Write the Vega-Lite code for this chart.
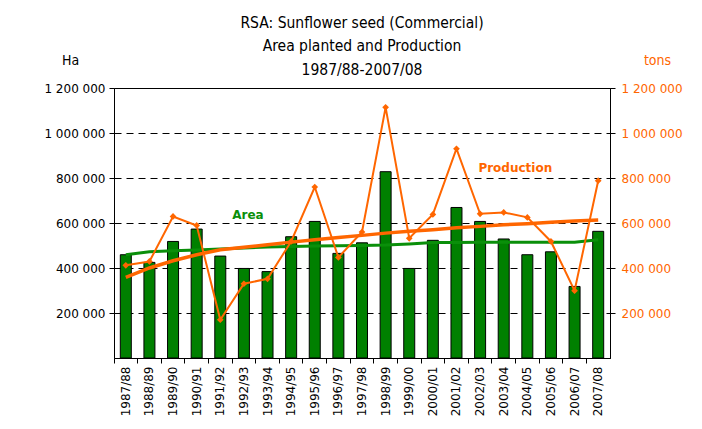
{
  "$schema": "https://vega.github.io/schema/vega-lite/v6.json",
  "width": 496,
  "height": 270,
  "autosize": {"type": "none"},
  "padding": {"left": 114, "top": 88, "right": 92, "bottom": 71},
  "background": "white",
  "title": {
    "text": ["RSA: Sunflower seed (Commercial)", "Area planted and Production", "1987/88-2007/08"],
    "anchor": "middle",
    "font": "DejaVu Sans Condensed, DejaVu Sans, sans-serif",
    "fontSize": 15.5,
    "fontWeight": "normal",
    "color": "#000",
    "lineHeight": 23.5,
    "offset": -25
  },
  "datasets": {
    "main": [
      {"period": "1987/88", "area": 459000, "production": 412000, "area_trend": 459000, "prod_trend": 358000},
      {"period": "1988/89", "area": 425000, "production": 429000, "area_trend": 472000, "prod_trend": 400000},
      {"period": "1989/90", "area": 518000, "production": 629000, "area_trend": 477000, "prod_trend": 432000},
      {"period": "1990/91", "area": 573000, "production": 589000, "area_trend": 480000, "prod_trend": 459000},
      {"period": "1991/92", "area": 453000, "production": 170000, "area_trend": 484000, "prod_trend": 481000},
      {"period": "1992/93", "area": 398000, "production": 330000, "area_trend": 489000, "prod_trend": 492000},
      {"period": "1993/94", "area": 384000, "production": 352000, "area_trend": 493000, "prod_trend": 503000},
      {"period": "1994/95", "area": 539000, "production": 518000, "area_trend": 496000, "prod_trend": 515000},
      {"period": "1995/96", "area": 607000, "production": 760000, "area_trend": 498000, "prod_trend": 526000},
      {"period": "1996/97", "area": 465000, "production": 447000, "area_trend": 499000, "prod_trend": 536000},
      {"period": "1997/98", "area": 512000, "production": 560000, "area_trend": 500000, "prod_trend": 545000},
      {"period": "1998/99", "area": 828000, "production": 1114000, "area_trend": 502000, "prod_trend": 555000},
      {"period": "1999/00", "area": 398000, "production": 532000, "area_trend": 507000, "prod_trend": 563000},
      {"period": "2000/01", "area": 523000, "production": 638000, "area_trend": 513000, "prod_trend": 570000},
      {"period": "2001/02", "area": 669000, "production": 930000, "area_trend": 513000, "prod_trend": 579000},
      {"period": "2002/03", "area": 607000, "production": 641000, "area_trend": 514000, "prod_trend": 585000},
      {"period": "2003/04", "area": 529000, "production": 647000, "area_trend": 514000, "prod_trend": 592000},
      {"period": "2004/05", "area": 459000, "production": 625000, "area_trend": 514000, "prod_trend": 597000},
      {"period": "2005/06", "area": 472000, "production": 518000, "area_trend": 514000, "prod_trend": 603000},
      {"period": "2006/07", "area": 318000, "production": 299000, "area_trend": 514000, "prod_trend": 609000},
      {"period": "2007/08", "area": 563000, "production": 788000, "area_trend": 526000, "prod_trend": 613000}
    ],
    "labels": [
      {"period": "1992/93", "value": 637000, "label": "Area"},
      {"period": "2004/05", "value": 846000, "label": "Production"}
    ]
  },
  "data": {"name": "main"},
  "encoding": {
    "x": {
      "field": "period",
      "type": "ordinal",
      "sort": null,
      "scale": {"paddingInner": 0, "paddingOuter": 0},
      "axis": {
        "title": null,
        "labelAngle": 270,
        "labelAlign": "right",
        "labelBaseline": "middle",
        "labelPadding": 3,
        "labelFont": "DejaVu Sans, sans-serif",
        "labelFontSize": 12,
        "labelColor": "#000",
        "bandPosition": 0,
        "tickSize": 5,
        "tickColor": "#000",
        "domainColor": "#000",
        "grid": false
      }
    }
  },
  "layer": [
    {
      "mark": {"type": "bar", "size": 11, "fill": "#008000", "stroke": "#000", "strokeWidth": 1},
      "encoding": {
        "y": {
          "field": "area",
          "type": "quantitative",
          "scale": {"domain": [0, 1200000], "nice": false},
          "axis": {
            "orient": "left",
            "values": [200000, 400000, 600000, 800000, 1000000, 1200000],
            "format": ",d",
            "grid": true,
            "gridColor": "#000",
            "gridDash": [7, 5],
            "gridWidth": 1,
            "domain": false,
            "tickSize": 5,
            "tickColor": "#000",
            "labelPadding": 4,
            "labelFont": "DejaVu Sans, sans-serif",
            "labelFontSize": 12,
            "labelColor": "#000",
            "title": "Ha",
            "titleAngle": 0,
            "titleX": -44,
            "titleY": -28,
            "titleAlign": "center",
            "titleBaseline": "middle",
            "titleFont": "DejaVu Sans Condensed, DejaVu Sans, sans-serif",
            "titleFontSize": 14,
            "titleFontWeight": "normal",
            "titleColor": "#000"
          }
        }
      }
    },
    {
      "mark": {"type": "line", "color": "#0A8F0A", "strokeWidth": 3},
      "encoding": {
        "y": {"field": "area_trend", "type": "quantitative", "scale": {"domain": [0, 1200000], "nice": false}, "axis": null}
      }
    },
    {
      "mark": {"type": "line", "color": "#FF6600", "strokeWidth": 3.5},
      "encoding": {
        "y": {"field": "prod_trend", "type": "quantitative", "scale": {"domain": [0, 1200000], "nice": false}, "axis": null}
      }
    },
    {
      "mark": {"type": "line", "color": "#FF6600", "strokeWidth": 2, "point": {"shape": "diamond", "size": 45, "filled": true, "color": "#FF6600"}},
      "encoding": {
        "y": {
          "field": "production",
          "type": "quantitative",
          "scale": {"domain": [0, 1200000], "nice": false},
          "axis": {
            "orient": "right",
            "values": [200000, 400000, 600000, 800000, 1000000, 1200000],
            "format": ",d",
            "grid": false,
            "domain": true,
            "domainColor": "#000",
            "tickSize": 5,
            "tickColor": "#000",
            "labelPadding": 6,
            "labelFont": "DejaVu Sans, sans-serif",
            "labelFontSize": 12,
            "labelColor": "#FF6600",
            "title": "tons",
            "titleAngle": 0,
            "titleX": 47,
            "titleY": -28,
            "titleAlign": "center",
            "titleBaseline": "middle",
            "titleFont": "DejaVu Sans Condensed, DejaVu Sans, sans-serif",
            "titleFontSize": 14,
            "titleFontWeight": "normal",
            "titleColor": "#FF6600"
          }
        }
      }
    },
    {
      "data": {"name": "labels"},
      "transform": [{"filter": "datum.label == 'Area'"}],
      "mark": {"type": "text", "color": "#0A8F0A", "font": "DejaVu Sans, sans-serif", "fontSize": 12, "fontWeight": "bold", "dx": 4, "baseline": "middle"},
      "encoding": {
        "y": {"field": "value", "type": "quantitative", "scale": {"domain": [0, 1200000], "nice": false}, "axis": null},
        "text": {"field": "label"}
      }
    },
    {
      "data": {"name": "labels"},
      "transform": [{"filter": "datum.label == 'Production'"}],
      "mark": {"type": "text", "color": "#FF6600", "font": "DejaVu Sans, sans-serif", "fontSize": 12, "fontWeight": "bold", "dx": -12, "baseline": "middle"},
      "encoding": {
        "y": {"field": "value", "type": "quantitative", "scale": {"domain": [0, 1200000], "nice": false}, "axis": null},
        "text": {"field": "label"}
      }
    }
  ],
  "resolve": {"scale": {"y": "shared"}, "axis": {"y": "independent"}},
  "config": {
    "locale": {"number": {"decimal": ".", "thousands": " ", "grouping": [3], "currency": ["", ""]}},
    "view": {"stroke": "#000", "strokeWidth": 1},
    "axis": {"labelFlush": false, "labelOverlap": false}
  }
}
